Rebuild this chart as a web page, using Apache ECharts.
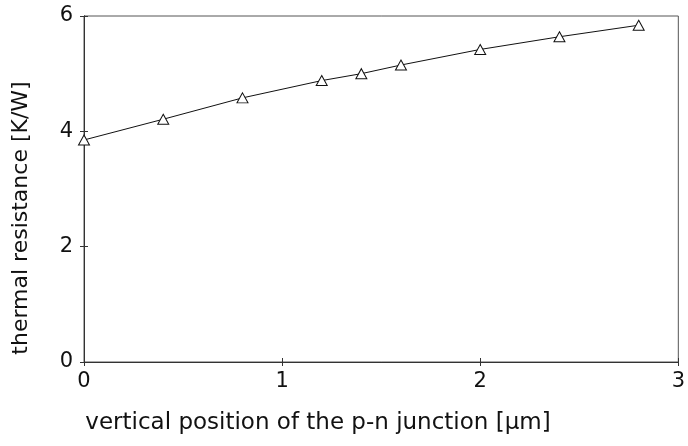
<!DOCTYPE html>
<html>
<head>
<meta charset="utf-8">
<script src="https://cdn.jsdelivr.net/npm/echarts@6/dist/echarts.min.js"></script>
<style>html,body{margin:0;padding:0;background:#fff;}#c{width:688px;height:446px;}</style>
</head>
<body>
<div id="c"></div>
<script>
const positions = [0, 0.4, 0.8, 1.2, 1.4, 1.6, 2.0, 2.4, 2.8];
const resistance = [3.85, 4.21, 4.58, 4.88, 5.0, 5.15, 5.42, 5.64, 5.84];
const xTicks = [0, 1, 2, 3];
const yTicks = [0, 2, 4, 6];
const xTitle = 'vertical position of the p-n junction [\u03bcm]';
const yTitle = 'thermal resistance [K/W]';

const font = 'DejaVu Sans, Verdana, sans-serif';
const chart = echarts.init(document.getElementById('c'));
const lineColor = '#333';
const baseX = {
  type: 'value', min: 0, max: 3, interval: 1,
  axisLine: {show: true, onZero: false, lineStyle: {color: lineColor, width: 1}},
  splitLine: {show: false}
};
const baseY = {
  type: 'value', min: 0, max: 6, interval: 2,
  axisLine: {show: true, onZero: false, lineStyle: {color: lineColor, width: 1}},
  splitLine: {show: false}
};
chart.setOption({
  animation: false,
  backgroundColor: '#fff',
  grid: {left: 84, top: 16, right: 5, bottom: 84, show: true, borderColor: '#555', borderWidth: 1},
  graphic: [
    {type: 'text', x: 318, y: 423, style: {text: xTitle, font: '23px ' + font, fill: '#111', align: 'center', verticalAlign: 'middle'}},
    {type: 'text', x: 21, y: 218, rotation: Math.PI / 2, style: {text: yTitle, font: '22px ' + font, fill: '#111', align: 'center', verticalAlign: 'middle'}}
  ],
  xAxis: [
    Object.assign({}, baseX, {
      position: 'bottom',
      axisTick: {show: true, length: 4, lineStyle: {color: lineColor}},
      axisLabel: {show: true, fontSize: 21, color: '#111', fontFamily: font, margin: 9,
        formatter: v => xTicks.includes(v) ? String(v) : ''}
    }),
    Object.assign({}, baseX, {
      position: 'bottom',
      axisTick: {show: true, inside: true, length: 4, lineStyle: {color: lineColor}},
      axisLabel: {show: false}
    })
  ],
  yAxis: [
    Object.assign({}, baseY, {
      position: 'left',
      axisTick: {show: true, length: 4, lineStyle: {color: lineColor}},
      axisLabel: {show: true, fontSize: 21, color: '#111', fontFamily: font, margin: 11,
        formatter: v => yTicks.includes(v) ? String(v) : ''}
    }),
    Object.assign({}, baseY, {
      position: 'left',
      axisTick: {show: true, inside: true, length: 4, lineStyle: {color: lineColor}},
      axisLabel: {show: false}
    })
  ],
  series: [{
    type: 'line',
    xAxisIndex: 0, yAxisIndex: 0,
    data: positions.map((x, i) => [x, resistance[i]]),
    lineStyle: {color: '#111', width: 1},
    symbol: 'triangle',
    symbolSize: [11, 10],
    itemStyle: {color: '#fff', borderColor: '#111', borderWidth: 1},
    showSymbol: true
  }]
});
</script>
</body>
</html>
